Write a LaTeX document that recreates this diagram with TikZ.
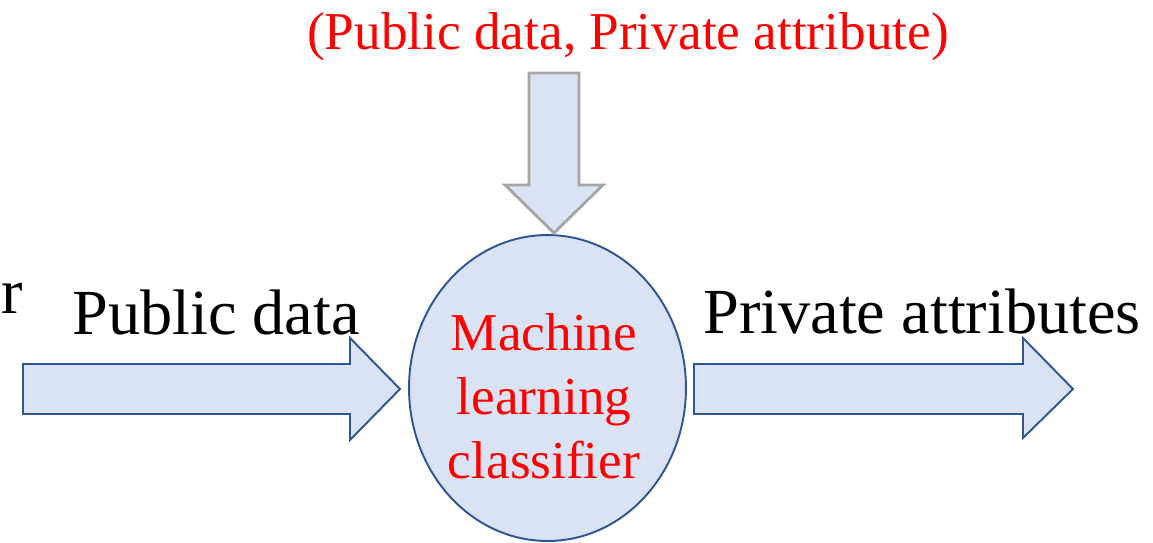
\documentclass[tikz,border=0pt]{standalone}
\usepackage{fontspec}
\setmainfont{Liberation Serif}
\usetikzlibrary{shapes.geometric}
\definecolor{fillblue}{HTML}{DAE3F3}
\definecolor{edgeblue}{HTML}{2F5597}
\definecolor{edgegray}{HTML}{A5A5A5}
\begin{document}
\begin{tikzpicture}[x=0.02cm,y=-0.02cm,
  blockarrow/.style={fill=fillblue,draw=edgeblue,line width=1.1pt,line join=miter},
  grayarrow/.style={fill=fillblue,draw=edgegray,line width=1.6pt,line join=miter},
  bigtext/.style={font=\fontsize{36.6pt}{40pt}\selectfont,inner sep=0pt},
  redtext/.style={text=red,font=\fontsize{30.3pt}{36.4pt}\selectfont,inner sep=0pt}]
\useasboundingbox (0,0) rectangle (1153,542);
\begin{scope}
\clip (0,0) rectangle (1153,542);
% classifier ellipse
\node[ellipse,fill=fillblue,draw=edgeblue,line width=1.1pt,minimum width=5.54cm,minimum height=6.12cm,inner sep=0pt] (clf) at (547.5,388) {};
\node[redtext,align=center,anchor=base] (clftext) at (544,478) {Machine\\learning\\classifier};
% left input arrow
\draw[blockarrow] (23,364) -- (350,364) -- (350,338) -- (400,389) -- (350,440) -- (350,414) -- (23,414) -- cycle;
% right output arrow
\draw[blockarrow] (694,364) -- (1023,364) -- (1023,338) -- (1073,389) -- (1023,438) -- (1023,414) -- (694,414) -- cycle;
% top training arrow
\draw[grayarrow] (529,73) -- (579,73) -- (579,185) -- (603,185) -- (554,233) -- (505,185) -- (529,185) -- cycle;
% labels
\node[bigtext,anchor=base west] (user) at (1,313) {r};
\node[bigtext,anchor=base west] (pub) at (72,334) {Public data};
\node[bigtext,anchor=base west] (priv) at (703,333) {Private attributes};
\node[redtext,anchor=base] (train) at (628,49) {(Public data, Private attribute)};
\end{scope}
\end{tikzpicture}
\end{document}
